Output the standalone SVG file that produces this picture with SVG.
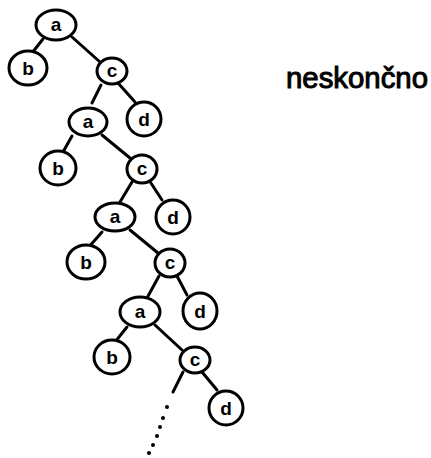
<svg xmlns="http://www.w3.org/2000/svg" width="431" height="458" viewBox="0 0 431 458">
<style>
.n ellipse{fill:#fff;stroke:#000;stroke-width:3}
.n text{font-family:"Liberation Sans",Arial,sans-serif;font-size:19px;font-weight:bold;text-anchor:middle;fill:#000}
#edges line{stroke:#000;stroke-width:3;stroke-linecap:round}
#dots circle{fill:#000}
</style>
<rect width="431" height="458" fill="#fff"/>
<g id="edges">
<line x1="43" y1="39" x2="32" y2="53"/>
<line x1="72" y1="37" x2="100" y2="62"/>
<line x1="101" y1="85" x2="92" y2="103"/>
<line x1="118" y1="83" x2="135" y2="102"/>
<line x1="72" y1="136" x2="63" y2="152"/>
<line x1="102" y1="135" x2="130" y2="158"/>
<line x1="132" y1="182" x2="120" y2="202"/>
<line x1="149" y1="180" x2="162" y2="200"/>
<line x1="102" y1="232" x2="88" y2="248"/>
<line x1="130" y1="230" x2="158" y2="253"/>
<line x1="159" y1="276" x2="147" y2="298"/>
<line x1="177" y1="276" x2="187" y2="295"/>
<line x1="127" y1="327" x2="115" y2="342"/>
<line x1="155" y1="325" x2="182" y2="350"/>
<line x1="183" y1="372" x2="173" y2="392"/>
<line x1="202" y1="372" x2="217" y2="390"/>
</g>
<g id="dots">
<circle cx="167" cy="407" r="2"/>
<circle cx="163" cy="418" r="2"/>
<circle cx="160" cy="427" r="2"/>
<circle cx="157" cy="436" r="2"/>
<circle cx="153" cy="445" r="2"/>
<circle cx="149" cy="453" r="2"/>
</g>
<g id="a1" class="n"><ellipse cx="56" cy="25" rx="20" ry="15"/><text x="56" y="31">a</text></g>
<g id="b1" class="n"><ellipse cx="28" cy="68" rx="19" ry="17"/><text x="28" y="75">b</text></g>
<g id="c1" class="n"><ellipse cx="112" cy="71" rx="15" ry="13"/><text x="112" y="77">c</text></g>
<g id="a2" class="n"><ellipse cx="88" cy="122" rx="19" ry="14"/><text x="88" y="128">a</text></g>
<g id="d1" class="n"><ellipse cx="144" cy="119" rx="17" ry="17"/><text x="144" y="126">d</text></g>
<g id="b2" class="n"><ellipse cx="58" cy="168" rx="18" ry="17"/><text x="58" y="175">b</text></g>
<g id="c2" class="n"><ellipse cx="142" cy="169" rx="15" ry="14"/><text x="142" y="175">c</text></g>
<g id="a3" class="n"><ellipse cx="115" cy="217" rx="20" ry="14"/><text x="115" y="223">a</text></g>
<g id="d2" class="n"><ellipse cx="173" cy="217" rx="17" ry="17"/><text x="173" y="224">d</text></g>
<g id="b3" class="n"><ellipse cx="86" cy="262" rx="19" ry="17"/><text x="86" y="269">b</text></g>
<g id="c3" class="n"><ellipse cx="170" cy="263" rx="15" ry="14"/><text x="170" y="269">c</text></g>
<g id="a4" class="n"><ellipse cx="140" cy="312" rx="20" ry="15"/><text x="140" y="318">a</text></g>
<g id="d3" class="n"><ellipse cx="200" cy="311" rx="17" ry="18"/><text x="200" y="318">d</text></g>
<g id="b4" class="n"><ellipse cx="112" cy="357" rx="18" ry="17"/><text x="112" y="364">b</text></g>
<g id="c4" class="n"><ellipse cx="195" cy="360" rx="15" ry="13"/><text x="195" y="366">c</text></g>
<g id="d4" class="n"><ellipse cx="226" cy="408" rx="17" ry="17"/><text x="226" y="415">d</text></g>
<text x="286" y="88" font-family="'Liberation Sans',Arial,sans-serif" font-size="29" stroke="#000" stroke-width="1" textLength="142" lengthAdjust="spacingAndGlyphs" fill="#000">neskončno</text>
</svg>
